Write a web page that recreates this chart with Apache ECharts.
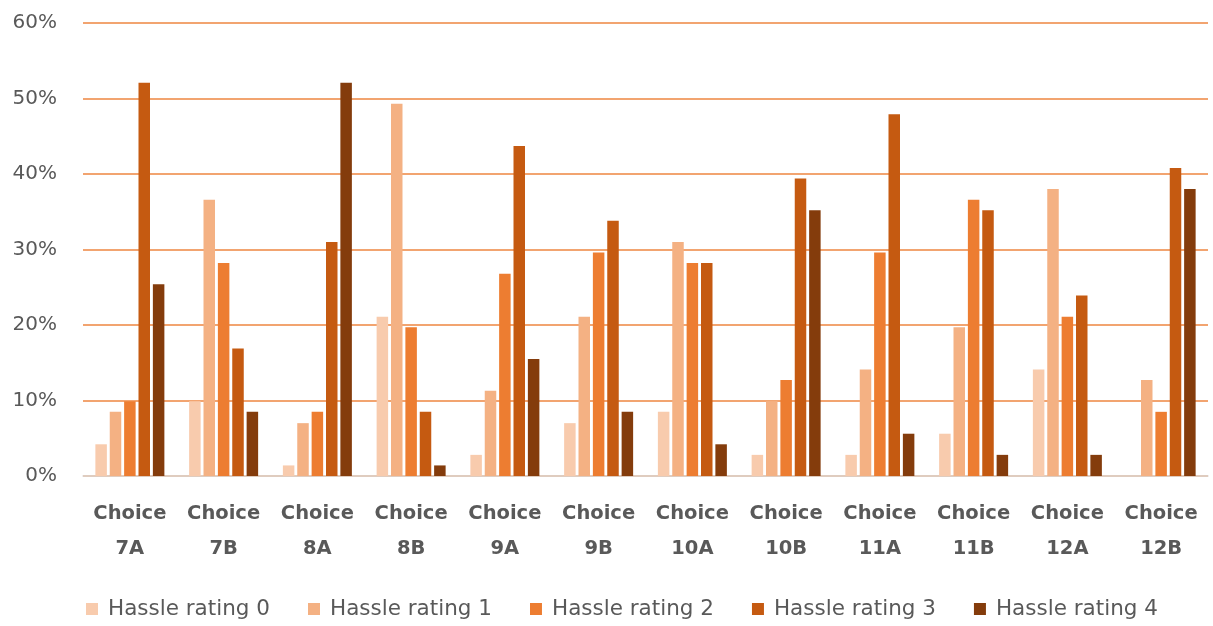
<!DOCTYPE html>
<html>
<head>
<meta charset="utf-8">
<script src="https://cdn.jsdelivr.net/npm/echarts@6/dist/echarts.min.js"></script>
<style>
  html, body { margin: 0; padding: 0; background: #ffffff; }
  #chart { width: 1213px; height: 626px; }
</style>
</head>
<body>
<div id="chart"></div>
<script>
// Choices on the x axis
const categories = ['Choice\n7A', 'Choice\n7B', 'Choice\n8A', 'Choice\n8B', 'Choice\n9A', 'Choice\n9B',
                    'Choice\n10A', 'Choice\n10B', 'Choice\n11A', 'Choice\n11B', 'Choice\n12A', 'Choice\n12B'];

// Share of respondents (%) for each hassle rating, per choice
const hassle0 = [4.2, 9.9, 1.4, 21.1, 2.8, 7.0, 8.5, 2.8, 2.8, 5.6, 14.1, 0.0];
const hassle1 = [8.5, 36.6, 7.0, 49.3, 11.3, 21.1, 31.0, 9.9, 14.1, 19.7, 38.0, 12.7];
const hassle2 = [9.9, 28.2, 8.5, 19.7, 26.8, 29.6, 28.2, 12.7, 29.6, 36.6, 21.1, 8.5];
const hassle3 = [52.1, 16.9, 31.0, 8.5, 43.7, 33.8, 28.2, 39.4, 47.9, 35.2, 23.9, 40.8];
const hassle4 = [25.4, 8.5, 52.1, 1.4, 15.5, 8.5, 4.2, 35.2, 5.6, 2.8, 2.8, 38.0];

const seriesNames = ['Hassle rating 0', 'Hassle rating 1', 'Hassle rating 2', 'Hassle rating 3', 'Hassle rating 4'];
const seriesValues = [hassle0, hassle1, hassle2, hassle3, hassle4];
const colors = ['#F8CBAD', '#F4B183', '#ED7D31', '#C55A11', '#843C0C'];

const FONT = 'DejaVu Sans';
const TEXT = '#595959';

const chart = echarts.init(document.getElementById('chart'), null, { renderer: 'canvas' });

chart.setOption({
  animation: false,
  color: colors,
  grid: { left: 83, right: 5, top: 23, bottom: 150, containLabel: false },
  legend: {
    left: 81,
    top: 593,
    itemWidth: 12,
    itemHeight: 12,
    itemGap: 38,
    icon: 'rect',
    textStyle: { fontFamily: FONT, fontSize: 21.5, color: TEXT, padding: [0, 0, 0, 5] },
    data: seriesNames
  },
  xAxis: {
    type: 'category',
    data: categories,
    axisLine: { show: true, lineStyle: { color: '#D9D9D9', width: 1.5 } },
    axisTick: { show: false },
    axisLabel: {
      interval: 0,
      margin: 20,
      fontFamily: FONT,
      fontSize: 19.5,
      fontWeight: 'bold',
      color: TEXT,
      lineHeight: 35
    }
  },
  yAxis: {
    type: 'value',
    min: 0,
    max: 60,
    interval: 10,
    axisLine: { show: false },
    axisTick: { show: false },
    splitLine: { lineStyle: { color: '#EE8640', width: 1.5 } },
    axisLabel: {
      margin: 26,
      fontFamily: FONT,
      fontSize: 20,
      color: TEXT,
      formatter: '{value}%'
    }
  },
  series: seriesNames.map((name, i) => ({
    name: name,
    type: 'bar',
    data: seriesValues[i],
    barWidth: 11.5,
    barGap: '25%',
    itemStyle: { color: colors[i] }
  }))
});
</script>
</body>
</html>
